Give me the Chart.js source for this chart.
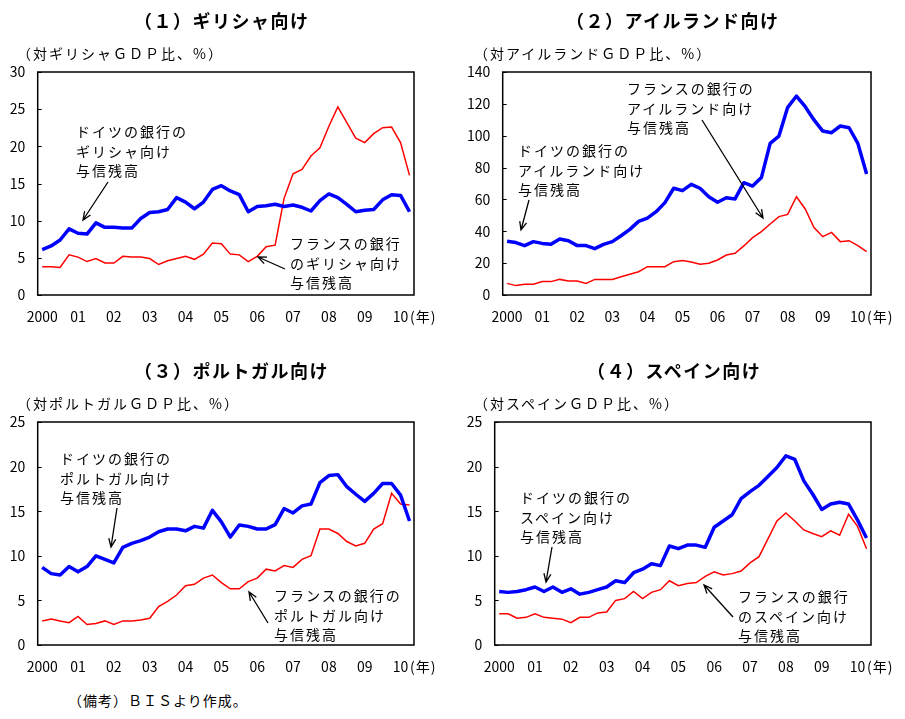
<!DOCTYPE html>
<html lang="ja">
<head>
<meta charset="utf-8">
<script src="https://cdn.jsdelivr.net/npm/chart.js@4.4.1/dist/chart.umd.min.js"></script>
<style>
  body { margin: 0; background: #fff; width: 905px; height: 719px; position: relative; overflow: hidden;
         font-family: "Noto Sans CJK JP", sans-serif; color: #000; }
  canvas { position: absolute; }
  .t { position: absolute; white-space: nowrap; line-height: 1; }
  .title { font-size: 18px; font-weight: bold; letter-spacing: 1.5px; }
  .unit { font-size: 14px; letter-spacing: 2px; }
  .note { font-size: 14px; letter-spacing: 2px; line-height: 19.5px; }
  .yr { font-size: 14px; letter-spacing: 1px; }
  .foot { font-size: 14px; letter-spacing: 1px; }
</style>
</head>
<body>
<canvas id="c1" width="450" height="340" style="left:0;top:0"></canvas>
<canvas id="c2" width="455" height="340" style="left:450px;top:0"></canvas>
<canvas id="c3" width="450" height="340" style="left:0;top:350px"></canvas>
<canvas id="c4" width="455" height="340" style="left:450px;top:350px"></canvas>

<div class="t title" style="left:134px;top:11px">（１）ギリシャ向け</div>
<div class="t title" style="left:566px;top:11px">（２）アイルランド向け</div>
<div class="t title" style="left:134px;top:361px">（３）ポルトガル向け</div>
<div class="t title" style="left:587px;top:361px">（４）スペイン向け</div>

<div class="t unit" style="left:17px;top:46px">（対ギリシャＧＤＰ比、%）</div>
<div class="t unit" style="left:474px;top:46px">（対アイルランドＧＤＰ比、%）</div>
<div class="t unit" style="left:17px;top:396px">（対ポルトガルＧＤＰ比、%）</div>
<div class="t unit" style="left:474px;top:396px">（対スペインＧＤＰ比、%）</div>

<div class="t note" style="left:76px;top:122px">ドイツの銀行の<br>ギリシャ向け<br>与信残高</div>
<div class="t note" style="left:290px;top:234px">フランスの銀行<br>のギリシャ向け<br>与信残高</div>
<div class="t note" style="left:518px;top:141px">ドイツの銀行の<br>アイルランド向け<br>与信残高</div>
<div class="t note" style="left:627px;top:79px">フランスの銀行の<br>アイルランド向け<br>与信残高</div>
<div class="t note" style="left:60px;top:449px">ドイツの銀行の<br>ポルトガル向け<br>与信残高</div>
<div class="t note" style="left:274px;top:586px">フランスの銀行の<br>ポルトガル向け<br>与信残高</div>
<div class="t note" style="left:520px;top:488px">ドイツの銀行の<br>スペイン向け<br>与信残高</div>
<div class="t note" style="left:738px;top:587px">フランスの銀行<br>のスペイン向け<br>与信残高</div>

<div class="t yr" style="left:410px;top:309px">(年)</div>
<div class="t yr" style="left:867px;top:309px">(年)</div>
<div class="t yr" style="left:410px;top:659px">(年)</div>
<div class="t yr" style="left:867px;top:659px">(年)</div>

<div class="t foot" style="left:68px;top:693px">（備考）ＢＩＳより作成。</div>

<script>
// year tick labels, quarterly data 2000Q1 - 2010Q2
const yearLabels = ['2000', '01', '02', '03', '04', '05', '06', '07', '08', '09', '10'];
const quarters = [];
yearLabels.forEach(y => ['Q1', 'Q2', 'Q3', 'Q4'].forEach(q => quarters.push(y + q)));
quarters.length = 42;

// Greece (% of GDP)
const greeceGermany = [6.1, 6.6, 7.4, 8.9, 8.3, 8.2, 9.7, 9.1, 9.1, 9.0, 9.0, 10.3, 11.1, 11.2, 11.5, 13.1, 12.5, 11.6, 12.5, 14.2, 14.7, 14.0, 13.5, 11.2, 11.9, 12.0, 12.2, 11.9, 12.1, 11.8, 11.3, 12.7, 13.6, 13.1, 12.2, 11.2, 11.4, 11.5, 12.8, 13.5, 13.4, 11.2];
const greeceFrance = [3.8, 3.8, 3.7, 5.4, 5.1, 4.5, 4.9, 4.3, 4.3, 5.2, 5.1, 5.1, 4.9, 4.1, 4.6, 4.9, 5.2, 4.8, 5.5, 7.0, 6.9, 5.5, 5.4, 4.5, 5.2, 6.5, 6.7, 13.0, 16.3, 16.9, 18.7, 19.8, 22.7, 25.3, 23.2, 21.1, 20.5, 21.7, 22.5, 22.6, 20.5, 16.1];

// Ireland
const irelandGermany = [33.7, 32.9, 31.0, 33.5, 32.4, 31.8, 35.2, 34.1, 31.0, 31.0, 29.1, 31.8, 33.5, 37.2, 41.2, 46.2, 48.3, 52.3, 58.0, 67.0, 65.5, 69.5, 67.0, 61.7, 58.2, 61.1, 60.3, 70.5, 68.4, 73.7, 95.2, 99.8, 117.8, 124.9, 118.2, 109.9, 102.9, 101.9, 106.1, 105.0, 95.2, 76.0];
const irelandFrance = [7.3, 5.9, 6.7, 6.7, 8.4, 8.4, 9.8, 8.8, 8.8, 7.3, 9.8, 9.8, 9.8, 11.5, 13.0, 14.6, 17.8, 17.8, 17.8, 20.9, 21.6, 20.7, 19.3, 19.9, 22.0, 25.1, 26.2, 30.8, 36.0, 39.8, 44.6, 49.2, 50.6, 61.7, 54.0, 42.3, 36.6, 39.3, 33.5, 34.1, 31.0, 27.2];

// Portugal
const portugalGermany = [8.7, 8.0, 7.85, 8.8, 8.2, 8.8, 10.0, 9.6, 9.2, 10.95, 11.4, 11.7, 12.1, 12.7, 13.0, 13.0, 12.8, 13.3, 13.1, 15.1, 13.8, 12.1, 13.45, 13.3, 13.0, 13.0, 13.5, 15.3, 14.8, 15.6, 15.8, 18.2, 19.0, 19.1, 17.75, 16.9, 16.1, 17.0, 18.1, 18.1, 16.8, 13.9];
const portugalFrance = [2.7, 2.9, 2.7, 2.5, 3.2, 2.3, 2.4, 2.7, 2.3, 2.7, 2.7, 2.8, 3.0, 4.3, 4.9, 5.6, 6.65, 6.8, 7.5, 7.85, 7.0, 6.3, 6.3, 7.1, 7.5, 8.5, 8.3, 8.9, 8.7, 9.6, 10.0, 13.0, 13.0, 12.5, 11.6, 11.1, 11.4, 13.0, 13.6, 17.0, 15.8, 15.7];

// Spain
const spainGermany = [6.0, 5.9, 6.0, 6.2, 6.5, 6.0, 6.5, 5.9, 6.3, 5.7, 5.9, 6.2, 6.5, 7.2, 7.0, 8.1, 8.5, 9.1, 8.9, 11.1, 10.8, 11.2, 11.2, 10.95, 13.2, 13.9, 14.6, 16.4, 17.2, 17.9, 18.9, 19.9, 21.2, 20.8, 18.4, 16.9, 15.2, 15.8, 16.0, 15.8, 14.0, 12.0];
const spainFrance = [3.5, 3.5, 3.0, 3.1, 3.5, 3.1, 3.0, 2.9, 2.5, 3.1, 3.1, 3.6, 3.7, 5.0, 5.2, 6.0, 5.2, 5.9, 6.2, 7.2, 6.65, 6.9, 7.0, 7.7, 8.2, 7.85, 8.0, 8.3, 9.2, 9.9, 11.9, 13.9, 14.8, 13.9, 12.9, 12.5, 12.15, 12.8, 12.3, 14.65, 13.3, 10.8];

Chart.defaults.font.family = '"Noto Sans CJK JP", sans-serif';
Chart.defaults.color = '#000';

// frame box, inner y tick marks and annotation arrows
const framePlugin = {
    id: 'frame',
    afterDraw(chart, args, opts) {
        const ctx = chart.ctx;
        const a = chart.chartArea;
        const y = chart.scales.y;
        ctx.save();
        ctx.strokeStyle = '#000';
        ctx.lineWidth = 1.5;
        ctx.strokeRect(a.left, a.top, a.right - a.left, a.bottom - a.top);
        ctx.lineWidth = 1;
        y.ticks.forEach((t, i) => {
            const py = Math.round(y.getPixelForTick(i)) + 0.5;
            ctx.beginPath();
            ctx.moveTo(a.left, py);
            ctx.lineTo(a.left + 4, py);
            ctx.stroke();
        });
        ctx.lineWidth = 1.3;
        (opts.arrows || []).forEach(([x1, y1, x2, y2]) => {
            const ang = Math.atan2(y2 - y1, x2 - x1);
            ctx.beginPath();
            ctx.moveTo(x1, y1);
            ctx.lineTo(x2, y2);
            ctx.moveTo(x2 - 9 * Math.cos(ang - 0.4), y2 - 9 * Math.sin(ang - 0.4));
            ctx.lineTo(x2, y2);
            ctx.lineTo(x2 - 9 * Math.cos(ang + 0.4), y2 - 9 * Math.sin(ang + 0.4));
            ctx.stroke();
        });
        ctx.restore();
    }
};

function makeChart(id, germany, france, yMax, yStep, yWidth, rightPad, arrows) {
    return new Chart(document.getElementById(id), {
        type: 'line',
        data: {
            labels: quarters,
            datasets: [{
                label: 'ドイツ',
                data: germany,
                borderColor: '#0000ff',
                borderWidth: 3.5,
                borderJoinStyle: 'round',
                pointRadius: 0,
                tension: 0
            },
            {
                label: 'フランス',
                data: france,
                borderColor: '#ff0000',
                borderWidth: 1.5,
                pointRadius: 0,
                tension: 0
            }]
        },
        options: {
            responsive: false,
            animation: false,
            devicePixelRatio: 1,
            layout: { padding: { left: 0, right: rightPad, top: 72, bottom: 0 } },
            scales: {
                x: {
                    offset: true,
                    grid: { display: false, drawTicks: false },
                    border: { display: false },
                    ticks: {
                        autoSkip: false,
                        maxRotation: 0,
                        padding: 13,
                        font: { size: 14 },
                        callback: (value, index) => index % 4 === 0 ? yearLabels[index / 4] : ''
                    },
                    afterFit: (s) => { s.height = 45; }
                },
                y: {
                    min: 0,
                    max: yMax,
                    grid: { display: false, drawTicks: false },
                    border: { display: false },
                    ticks: { stepSize: yStep, padding: 12.5, font: { size: 14 } },
                    afterFit: (s) => { s.width = yWidth; }
                }
            },
            plugins: {
                legend: { display: false },
                tooltip: { enabled: false },
                frame: { arrows: arrows }
            }
        },
        plugins: [framePlugin]
    });
}

makeChart('c1', greeceGermany, greeceFrance, 30, 5, 37.7, 36, [[108, 182, 83, 220], [285, 269, 258, 257]]);
makeChart('c2', irelandGermany, irelandFrance, 140, 20, 52.7, 34, [[79, 200, 71, 230], [252, 120, 313, 218]]);
makeChart('c3', portugalGermany, portugalFrance, 25, 5, 37.7, 36, [[117, 158, 111, 197], [268, 273, 249, 242]]);
makeChart('c4', spainGermany, spainFrance, 25, 5, 44.7, 34, [[102, 197, 96, 232], [283, 267, 254, 235]]);
</script>
</body>
</html>
